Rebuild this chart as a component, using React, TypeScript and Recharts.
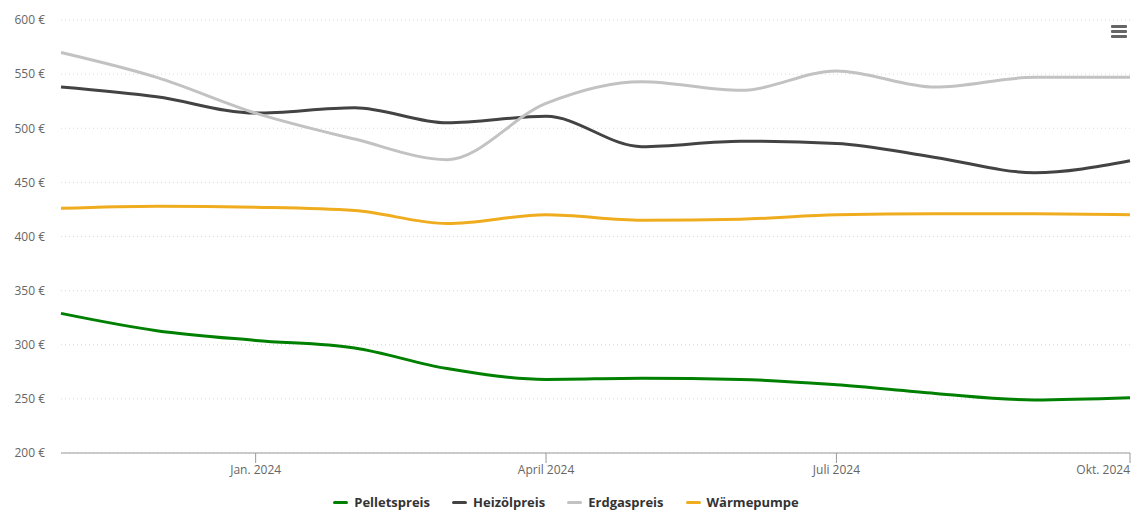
import { LineChart, Line, XAxis, YAxis, CartesianGrid, Legend } from "recharts";

const months = [
  "2023-11-01", "2023-12-01", "2024-01-01", "2024-02-01", "2024-03-01", "2024-04-01",
  "2024-05-01", "2024-06-01", "2024-07-01", "2024-08-01", "2024-09-01", "2024-10-01",
];

const pelletspreis = [329, 313, 304, 297, 278, 268, 269, 268, 263, 255, 249, 251];
const heizoelpreis = [538, 529, 514, 519, 505, 511, 483, 488, 486, 473, 459, 470];
const erdgaspreis = [570, 547, 514, 490, 471, 523, 543, 535, 553, 538, 547, 547];
const waermepumpe = [426, 428, 427, 424, 412, 420, 415, 416, 420, 421, 421, 420];

const xTickDates = ["2024-01-01", "2024-04-01", "2024-07-01", "2024-10-01"];
const xTickLabels = ["Jan. 2024", "April 2024", "Juli 2024", "Okt. 2024"];
const yTicks = [200, 250, 300, 350, 400, 450, 500, 550, 600];

const series = [
  { key: "pellets", name: "Pelletspreis", color: "#008000", values: pelletspreis },
  { key: "heizoel", name: "Heizölpreis", color: "#434343", values: heizoelpreis },
  { key: "erdgas", name: "Erdgaspreis", color: "#c2c2c2", values: erdgaspreis },
  { key: "waerme", name: "Wärmepumpe", color: "#f0ac1f", values: waermepumpe },
];

const data = months.map((m, i) => {
  const row: Record<string, number> = { date: Date.parse(m) };
  series.forEach((s) => (row[s.key] = s.values[i]));
  return row;
});

const xTicks = xTickDates.map((d) => Date.parse(d));
const FONT = "'Open Sans', 'DejaVu Sans', sans-serif";

const XTick = (props: any) => {
  const { x, y, payload } = props;
  const idx = xTicks.indexOf(payload.value);
  const last = idx === xTicks.length - 1;
  return (
    <text x={x} y={y} dy="0.71em" textAnchor={last ? "end" : "middle"} fill="#666" fontSize={12} fontFamily={FONT}>
      {xTickLabels[idx]}
    </text>
  );
};

const LegendContent = () => (
  <div style={{ height: 46, display: "flex", justifyContent: "center", alignItems: "flex-start", paddingTop: 10, paddingLeft: 2, boxSizing: "border-box" }}>
    {series.map((s) => (
      <div key={s.key} style={{ display: "flex", alignItems: "center", margin: "0 11px", fontFamily: FONT, fontSize: 13, fontWeight: 700, color: "#333" }}>
        <span style={{ display: "inline-block", width: 15, height: 3, borderRadius: 2, background: s.color, marginRight: 6 }} />
        {s.name}
      </div>
    ))}
  </div>
);

const App = () => (
  <div style={{ position: "relative", width: 1140, height: 529, margin: -8 }}>
    <LineChart width={1140} height={529} data={data} margin={{ top: 20, right: 10, left: 0, bottom: 0 }}>
      <CartesianGrid vertical={false} stroke="#d9d9d9" strokeDasharray="1 3" />
      <XAxis
        dataKey="date"
        type="number"
        scale="time"
        domain={[Date.parse(months[0]), Date.parse(months[months.length - 1])]}
        ticks={xTicks}
        tick={<XTick />}
        height={30}
        stroke="#999"
        tickSize={10}
        tickMargin={2}
        interval={0}
      />
      <YAxis
        width={61}
        domain={[200, 600]}
        ticks={yTicks}
        tickFormatter={(v: number) => `${v} €`}
        axisLine={false}
        tickLine={false}
        tickMargin={10}
        tick={{ fill: "#666", fontSize: 12, fontFamily: FONT }}
        interval={0}
      />
      <Legend verticalAlign="bottom" content={<LegendContent />} />
      {series.map((s) => (
        <Line
          key={s.key}
          type="monotone"
          dataKey={s.key}
          name={s.name}
          stroke={s.color}
          strokeWidth={3}
          dot={false}
          activeDot={false}
          isAnimationActive={false}
        />
      ))}
    </LineChart>
    <div style={{ position: "absolute", left: 1111, top: 25, width: 16 }}>
      {[0, 1, 2].map((i) => (
        <div key={i} style={{ height: 3, background: "#666", borderRadius: 1, marginBottom: 2 }} />
      ))}
    </div>
  </div>
);

export default App;
